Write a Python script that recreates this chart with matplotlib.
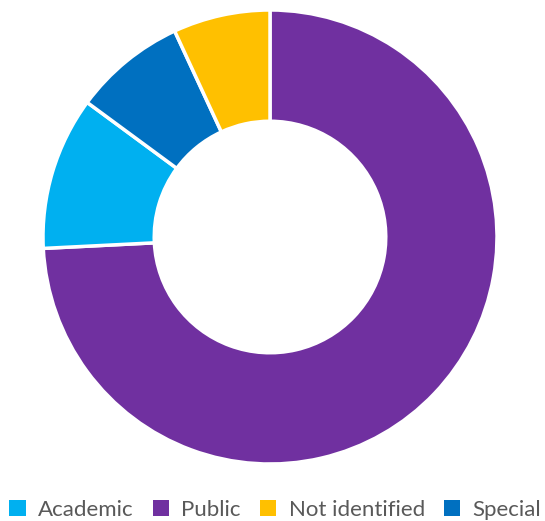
import matplotlib.pyplot as plt
from matplotlib.patches import Patch

# legend order
categories = ['Academic', 'Public', 'Not identified', 'Special']
shares = [10.9, 74.2, 6.9, 8.0]
colors = ['#00B0F0', '#7030A0', '#FFC000', '#0070C0']

# clockwise from 12 o'clock as drawn in the chart
draw_order = ['Public', 'Academic', 'Special', 'Not identified']

fig = plt.figure(figsize=(5.45, 5.21), dpi=100)
ax = fig.add_axes([43 / 545, 57 / 521, 454 / 545, 454 / 521])

vals = [shares[categories.index(c)] for c in draw_order]
cols = [colors[categories.index(c)] for c in draw_order]
ax.pie(vals, colors=cols, startangle=90, counterclock=False, radius=1.0,
       wedgeprops=dict(width=0.49, edgecolor='white', linewidth=2.5))
ax.set_xlim(-1, 1)
ax.set_ylim(-1, 1)
ax.set_aspect('equal')
ax.axis('off')

handles = [Patch(facecolor=c, edgecolor='none') for c in colors]
fig.legend(handles, categories, loc='center', bbox_to_anchor=(0.505, 11 / 521),
           ncol=4, frameon=False, prop={'family': 'Lato', 'size': 16},
           labelcolor='#595959', handlelength=0.75, handleheight=0.75,
           handletextpad=0.55, columnspacing=0.85, borderpad=0)

fig.savefig('out.png', dpi=100)
